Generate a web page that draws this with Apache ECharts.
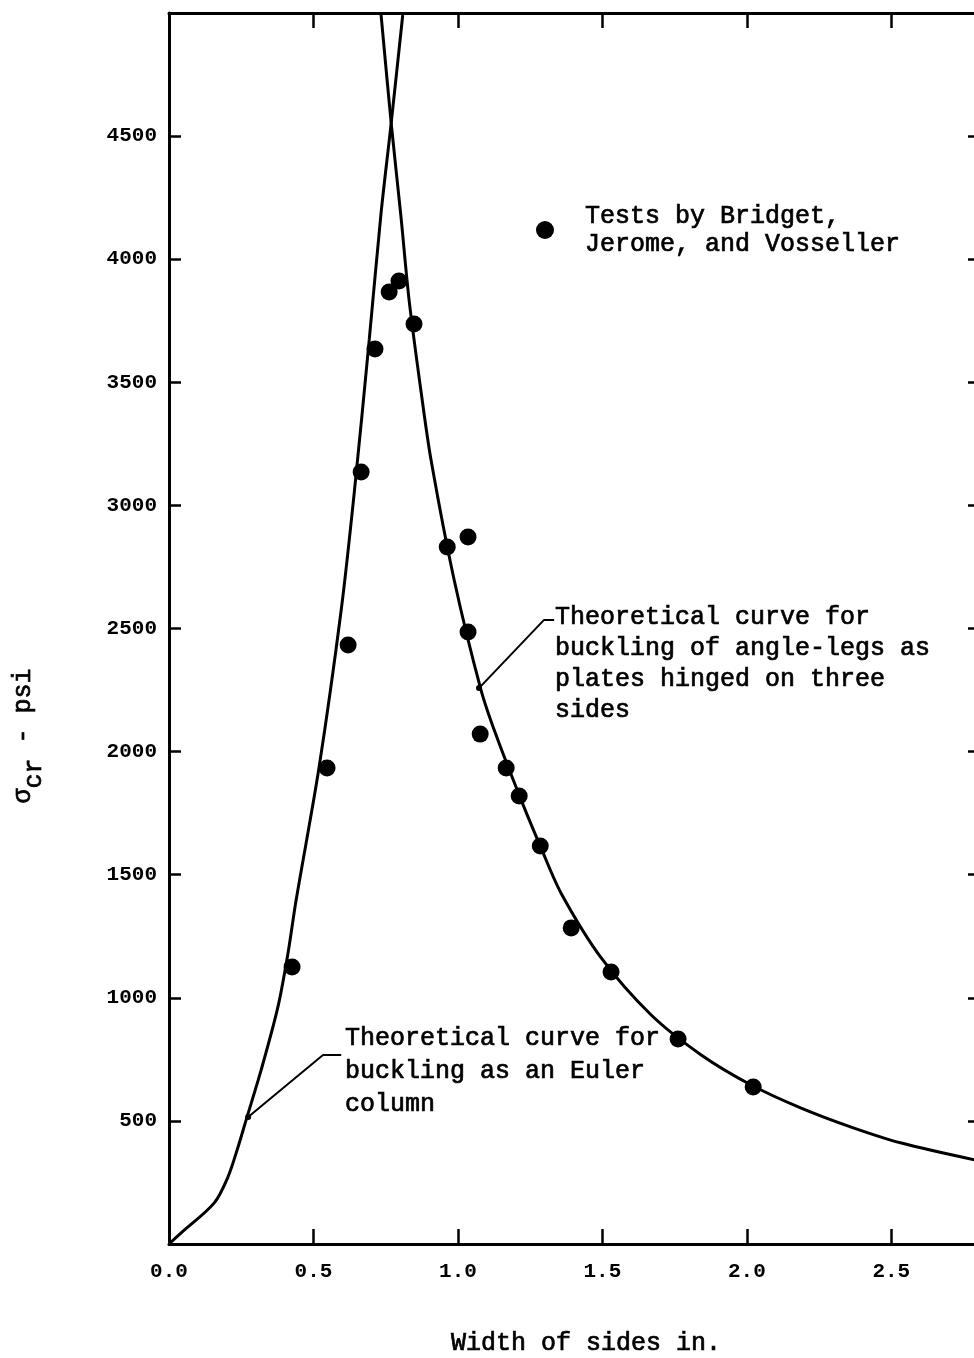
<!DOCTYPE html>
<html>
<head>
<meta charset="utf-8">
<script src="https://cdn.jsdelivr.net/npm/echarts@6/dist/echarts.min.js"></script>
<style>
  html, body { margin: 0; padding: 0; background: #fff; overflow: hidden; }
  #chart { width: 974px; height: 1358px; }
</style>
</head>
<body>
<div id="chart"></div>
<script>
// Critical buckling stress of angle sections against leg width.

// Test results (Bridget, Jerome and Vosseller)
const testWidth  = [0.426, 0.547, 0.620, 0.665, 0.713, 0.762, 0.796, 0.848, 0.963, 1.035,
                    1.035, 1.077, 1.167, 1.212, 1.285, 1.392, 1.530, 1.762, 2.022];
const testStress = [1125, 1933, 2433, 3136, 3635, 3867, 3911, 3737, 2831, 2872,
                    2486, 2071, 1933, 1820, 1617, 1284, 1105, 833, 638];

// Euler column curve
const eulerWidth  = [0, 0.042, 0.156, 0.204, 0.239, 0.267, 0.319, 0.377, 0.412, 0.440,
                     0.519, 0.596, 0.641, 0.693, 0.734, 0.769, 0.809];
const eulerStress = [0, 45, 166, 272, 394, 504, 707, 963, 1182, 1397,
                     1933, 2575, 3050, 3672, 4188, 4553, 4992];

// Angle legs as plates hinged on three sides
const plateWidth  = [0.734, 0.769, 0.803, 0.831, 0.873, 0.907, 0.987, 1.080, 1.132, 1.219,
                     1.288, 1.357, 1.496, 1.669, 1.842, 2.015, 2.188, 2.361, 2.535, 2.791];
const plateStress = [4992, 4553, 4171, 3834, 3457, 3184, 2697, 2250, 2067, 1803,
                     1608, 1425, 1162, 930, 768, 646, 552, 475, 410, 341];

// Axis ranges and ticks
const xMin = 0, xMax = 2.8, xStep = 0.5;
const yMin = 0, yMax = 5000, yStep = 500;

// Text
const xTitle = 'Width of sides in.';
const legendNote = ['Tests by Bridget,', 'Jerome, and Vosseller'];
const plateNote = ['Theoretical curve for', 'buckling of angle-legs as', 'plates hinged on three', 'sides'];
const eulerNote = ['Theoretical curve for', 'buckling as an Euler', 'column'];

// Leader lines from the notes to their curves
const plateLeader = [[1.073, 2258], [1.298, 2535], [1.333, 2535]];
const eulerLeader = [[0.274, 516], [0.533, 768], [0.596, 768]];

const zip = (a, b) => a.map((v, i) => [v, b[i]]);
const MONO = '"Liberation Mono", "DejaVu Sans Mono", monospace';
const INK = '#000';

const chart = echarts.init(document.getElementById('chart'), null, { renderer: 'canvas' });

const axisLine = { show: true, onZero: false, lineStyle: { color: INK, width: 3 } };
const tickFont = { fontFamily: MONO, fontWeight: 'bold', fontSize: 21, color: INK };
// typewriter-weight body text
const typeText = { fontFamily: MONO, fontSize: 25, fill: INK, stroke: INK, lineWidth: 0.7 };

function leaderData(pts) {
  return pts.map((p, i) => i === 0
    ? { value: p, symbol: 'circle', symbolSize: 6 }
    : { value: p, symbol: 'none' });
}

chart.setOption({
  backgroundColor: '#fff',
  animation: false,
  // the right frame edge sits just past the page edge
  grid: { left: 169, top: 13, width: 809, height: 1231, containLabel: false, outerBoundsMode: 'none' },
  legend: {
    data: [{ name: 'tests', icon: 'circle' }],
    left: 536, top: 202, padding: 0,
    itemWidth: 18, itemHeight: 19,
    formatter: () => legendNote.join('\n'),
    textStyle: { fontFamily: MONO, fontSize: 25, lineHeight: 28, color: INK,
                 textBorderColor: INK, textBorderWidth: 0.7, padding: [0, 0, 0, 26] },
    itemStyle: { opacity: 1 },
    selectedMode: false
  },
  xAxis: [
    {
      type: 'value', position: 'bottom', min: xMin, max: xMax, interval: xStep,
      axisLine, splitLine: { show: false },
      axisTick: { inside: true, length: 15, lineStyle: { color: INK, width: 2.5 } },
      axisLabel: Object.assign({
        margin: 17,
        formatter: v => Math.abs(v / xStep - Math.round(v / xStep)) < 1e-6 ? v.toFixed(1) : ''
      }, tickFont)
    },
    {
      type: 'value', position: 'top', min: xMin, max: xMax, interval: xStep,
      axisLine, splitLine: { show: false },
      axisTick: { inside: true, length: 15, lineStyle: { color: INK, width: 2.5 } },
      axisLabel: { show: false }
    }
  ],
  yAxis: [
    {
      type: 'value', position: 'left', min: yMin, max: yMax, interval: yStep,
      axisLine, splitLine: { show: false },
      axisTick: { inside: true, length: 12, lineStyle: { color: INK, width: 2.5 } },
      axisLabel: Object.assign({
        margin: 12,
        formatter: v => (v === yMin || v === yMax) ? '' : String(v)
      }, tickFont)
    },
    {
      type: 'value', position: 'right', min: yMin, max: yMax, interval: yStep,
      axisLine, splitLine: { show: false },
      axisTick: { inside: true, length: 10, lineStyle: { color: INK, width: 2.5 } },
      axisLabel: { show: false }
    }
  ],
  series: [
    {
      name: 'euler', type: 'line', data: zip(eulerWidth, eulerStress),
      smooth: 0.3, symbol: 'none',
      lineStyle: { color: INK, width: 3 }, z: 3
    },
    {
      name: 'plate', type: 'line', data: zip(plateWidth, plateStress),
      smooth: 0.3, symbol: 'none',
      lineStyle: { color: INK, width: 3 }, z: 3
    },
    {
      name: 'tests', type: 'scatter', data: zip(testWidth, testStress),
      symbol: 'circle', symbolSize: 17, itemStyle: { color: INK, opacity: 1 }, z: 4
    },
    {
      name: 'plateLeader', type: 'line', data: leaderData(plateLeader),
      symbol: 'none', showSymbol: true, itemStyle: { color: INK },
      lineStyle: { color: INK, width: 2 }, z: 2, silent: true
    },
    {
      name: 'eulerLeader', type: 'line', data: leaderData(eulerLeader),
      symbol: 'none', showSymbol: true, itemStyle: { color: INK },
      lineStyle: { color: INK, width: 2 }, z: 2, silent: true
    }
  ],
  graphic: [
    {
      type: 'text', x: 555, y: 602, z: 10,
      style: Object.assign({ text: plateNote.join('\n'), lineHeight: 31,
                             align: 'left', verticalAlign: 'top' }, typeText)
    },
    {
      type: 'text', x: 345, y: 1022, z: 10,
      style: Object.assign({ text: eulerNote.join('\n'), lineHeight: 33,
                             align: 'left', verticalAlign: 'top' }, typeText)
    },
    {
      type: 'text', x: 451, y: 1343, z: 10,
      style: Object.assign({ text: xTitle, align: 'left', verticalAlign: 'middle' }, typeText)
    },
    {
      type: 'text', x: 23, y: 736, rotation: Math.PI / 2, z: 10,
      style: {
        text: '{a|σ}{b|cr}{a| - psi}',
        align: 'center', verticalAlign: 'middle',
        rich: {
          a: { fontFamily: MONO, fontSize: 25, lineHeight: 47, verticalAlign: 'middle',
               fill: INK, stroke: INK, lineWidth: 0.7 },
          b: { fontFamily: MONO, fontSize: 25, lineHeight: 25, verticalAlign: 'bottom',
               fill: INK, stroke: INK, lineWidth: 0.7 }
        }
      }
    }
  ]
});
</script>
</body>
</html>
